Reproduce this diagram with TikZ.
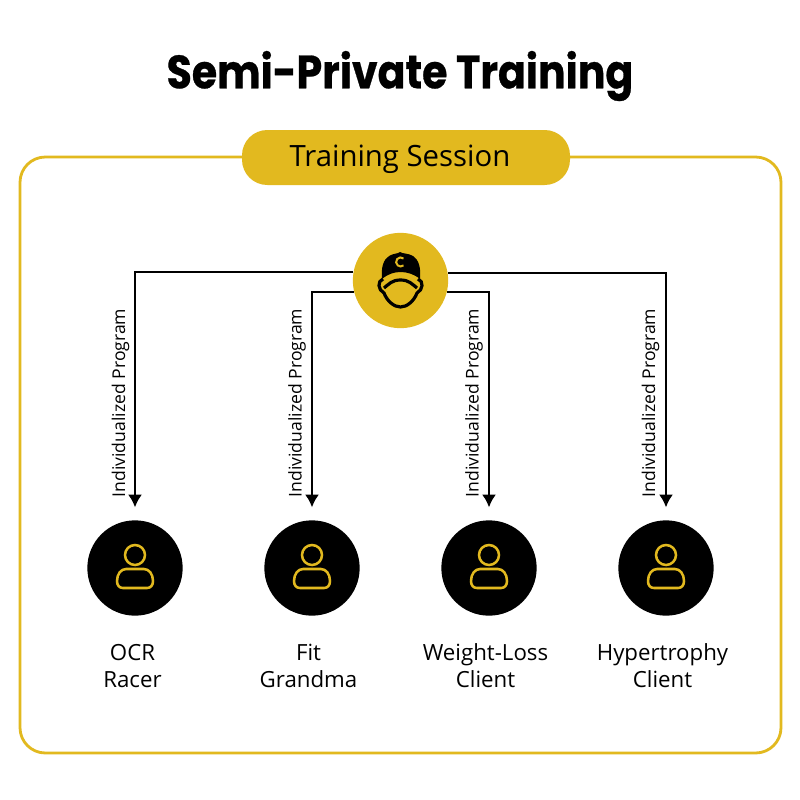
\documentclass[tikz,border=0pt]{standalone}
\usepackage{fontspec}
\setmainfont{Open Sans}
\newfontfamily\titlefont[FakeStretch=0.88,FakeBold=0.6]{Poppins}
\definecolor{gold}{HTML}{E2B91F}
\tikzset{
  x=0.75pt,y=-0.75pt,
  frame/.style={draw=gold,line width=2.1pt,rounded corners=19pt},
  pill/.style={fill=gold,rounded corners=19pt},
  hubdisc/.style={circle,fill=gold,minimum size=71.5pt,inner sep=0pt},
  clientdisc/.style={circle,fill=black,minimum size=71.5pt,inner sep=0pt},
  conn/.style={draw=black,line width=1.9pt,-{Latex[length=9.5pt,width=10.5pt]},shorten >=9.5pt},
  vlabel/.style={rotate=90,font=\fontsize{13.2}{16}\selectfont,inner sep=0pt},
  namelabel/.style={align=center,font=\fontsize{16.7}{20.2}\selectfont,inner sep=0pt},
  personicon/.pic={
    \draw[gold,line width=1.9pt] (0,-13) circle[radius=10];
    \draw[gold,line width=1.9pt,line join=round] (-9,1) -- (9,1) .. controls (14,1) and (18,6) .. (18,13) .. controls (18,17) and (16,20) .. (12,20) -- (-12,20) .. controls (-16,20) and (-18,17) .. (-18,13) .. controls (-18,6) and (-14,1) .. (-9,1) -- cycle;
  }
}
\usetikzlibrary{arrows.meta}
\begin{document}
\begin{tikzpicture}
\useasboundingbox (0,0) rectangle (800,800);
\fill[white] (0,0) rectangle (800,800);
\node[font=\titlefont\bfseries\fontsize{35}{40}\selectfont,inner sep=0pt] (title) at (400,76) {Semi-Private Training};
\draw[frame] (20,157) rectangle (781,753);
\path[pill] (242,130) rectangle (570,185);
\node[font=\fontsize{22}{27}\selectfont,inner sep=0pt] (session) at (400,159) {Training Session};
\node[hubdisc] (hub) at (400.5,280.5) {};
\node[clientdisc] (c1) at (135,568) {};
\node[clientdisc] (c2) at (312,568) {};
\node[clientdisc] (c3) at (489,568) {};
\node[clientdisc] (c4) at (666,568) {};
\draw[conn] (hub.170.9) -| (c1.north);
\draw[conn] (hub.194) -| (c2.north);
\draw[conn] (hub.-14) -| (c3.north);
\draw[conn] (hub.9.1) -| (c4.north);
\node[vlabel] (l1) at (120.5,403) {Individualized Program};
\node[vlabel] (l2) at (297,403) {Individualized Program};
\node[vlabel] (l3) at (474,403) {Individualized Program};
\node[vlabel] (l4) at (650.5,403) {Individualized Program};
\pic at (c1.center) {personicon};
\pic at (c2.center) {personicon};
\pic at (c3.center) {personicon};
\pic at (c4.center) {personicon};
\node[namelabel] (n1) at (132.5,666) {OCR\\Racer};
\node[namelabel] (n2) at (308.5,666) {Fit\\Grandma};
\node[namelabel] (n3) at (485.5,666) {Weight-Loss\\Client};
\node[namelabel] (n4) at (662.5,666) {Hypertrophy\\Client};
% coach icon
\fill[black] (382,279) .. controls (381,268) and (383,260) .. (389,256) .. controls (394,253) and (398,254) .. (400,252) .. controls (403,254) and (408,253) .. (413,256) .. controls (419,260) and (421,268) .. (420,279) .. controls (414,274) and (407,272) .. (400.5,272) .. controls (394,272) and (388,274) .. (382,279) -- cycle;
\draw[gold,line width=1.5pt] (403.5,258.5) arc[start angle=-50,end angle=-310,radius=4.5];
\draw[black,line width=2.4pt,line join=round] (383,279) .. controls (377,281) and (378,290) .. (384,293) .. controls (387,301) and (394,307) .. (400.5,307) .. controls (407,307) and (414,301) .. (417,293) .. controls (423,290) and (424,281) .. (418,279);
\draw[black,line width=2.4pt] (384,288) .. controls (389,284) and (392,280) .. (400.5,280) .. controls (409,280) and (412,284) .. (417,288);
\end{tikzpicture}
\end{document}
